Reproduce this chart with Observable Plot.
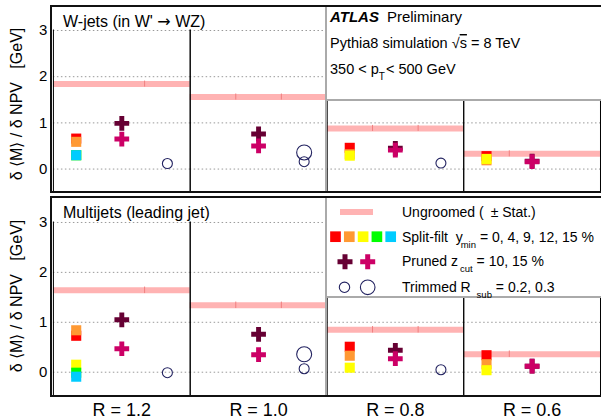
<!DOCTYPE html>
<html><head><meta charset="utf-8">
<script src="https://cdn.jsdelivr.net/npm/d3@7"></script>
<script src="https://cdn.jsdelivr.net/npm/@observablehq/plot@0.6"></script>
<style>
html,body{margin:0;padding:0;background:#fff;overflow:hidden;}
#wrap{position:relative;width:601px;height:419px;overflow:hidden;font-family:"Liberation Sans",Arial,Helvetica,sans-serif;}
#wrap svg{position:absolute;left:0;}
</style></head><body><div id="wrap"></div>
<script>
// ---------- data ----------
const radii = [1.2, 1.0, 0.8, 0.6];
const rLabels = ["R = 1.2", "R = 1.0", "R = 0.8", "R = 0.6"];
const yTicks = [0, 1, 2, 3];
const groomers = ["Split-filt", "Pruned", "Trimmed"];
const splitYmin = [0, 4, 9, 12, 15];
const prunedZcut = [10, 15];
const trimmedRsub = [0.2, 0.3];

// W-jets (in W' -> WZ)
const ungroomedW = [1.84, 1.56, 0.88, 0.33];
const statEdgesW = [[2], [1, 2], [1, 2], [1]];
const splitW = [[0.66, 0.59, 0.30, 0.30, 0.30], [], [0.46, 0.32, 0.29], [0.28, 0.19, 0.22]];
const prunedW = [[0.99, 0.65], [0.76, 0.50], [0.45, 0.41], [0.17, 0.16]];
const trimmedW = [[0.12, null], [0.16, 0.36], [0.13, null], [null, null]];

// Multijets (leading jet)
const ungroomedM = [1.64, 1.34, 0.85, 0.36];
const statEdgesM = [[2], [1, 2], [1, 2], [1]];
const splitM = [[0.73, 0.84, 0.15, -0.01, -0.09], [], [0.51, 0.33, 0.09], [0.34, 0.16, 0.04]];
const prunedM = [[1.05, 0.47], [0.76, 0.35], [0.44, 0.27], [0.12, 0.12]];
const trimmedM = [[-0.01, null], [0.07, 0.36], [0.05, null], [null, null]];

// ---------- styles ----------
const splitColors = ["#ff0000", "#ff9933", "#ffff00", "#00ff00", "#00ccff"];
const prunedColors = ["#660033", "#cc0066"];
const circleColor = "#222260";
const bandColor = "#ffb3b3";
const FONT = "Liberation Sans, Arial, Helvetica, sans-serif";

function panel(ung, edges, split, pruned, trimmed, cfg) {
  const ungData = radii.map((R, i) => ({R, y: ung[i]}));
  const edgeData = radii.flatMap((R, i) => edges[i].map(b => ({R, b, y: ung[i]})));
  const splitData = radii.flatMap((R, i) => split[i].map((v, k) => ({R, k, ymin: splitYmin[k], y: v}))).filter(d => d.y != null);
  const prunedData = radii.flatMap((R, i) => pruned[i].map((v, k) => ({R, k, z: prunedZcut[k], y: v}))).filter(d => d.y != null);
  const trimData = radii.flatMap((R, i) => trimmed[i].map((v, k) => ({R, k, rsub: trimmedRsub[k], y: v}))).filter(d => d.y != null);
  const gx = g => groomers.indexOf(g) + 0.5;
  const marks = [
    Plot.ruleY(yTicks, {stroke: "#999", strokeDasharray: "1.5,2.5"}),
    Plot.ruleY(ungData, {fx: "R", y: "y", stroke: bandColor, strokeWidth: 6}),
    Plot.ruleX(edgeData, {fx: "R", x: "b", y1: d => d.y - 0.065, y2: d => d.y + 0.065, stroke: "#f08080", strokeWidth: 1}),
    Plot.dot(splitData, {fx: "R", x: () => gx("Split-filt"), y: "y", symbol: "square", r: 5.7, fill: d => splitColors[d.k], stroke: null}),
    Plot.dot(prunedData, {fx: "R", x: () => gx("Pruned"), y: "y", symbol: "cross", r: 6.2, fill: d => prunedColors[d.k], stroke: null}),
    Plot.dot(trimData.filter(d => d.k === 0), {fx: "R", x: () => gx("Trimmed"), y: "y", r: 5, fill: "none", stroke: circleColor, strokeWidth: 1.1}),
    Plot.dot(trimData.filter(d => d.k === 1), {fx: "R", x: () => gx("Trimmed"), y: "y", r: 7.5, fill: "none", stroke: circleColor, strokeWidth: 1.1}),
    Plot.frame({stroke: "#000"})
  ];
  if (cfg.labels) {
    marks.push(Plot.text(radii, {fx: d => d, text: d => rLabels[radii.indexOf(d)], frameAnchor: "bottom", dy: 20, fontSize: 18, fill: "#000"}));
  }
  return Plot.plot({
    width: 602, height: cfg.height,
    marginLeft: 51, marginRight: 0, marginTop: cfg.mt, marginBottom: cfg.mb,
    style: {fontSize: "15px", fontFamily: FONT, color: "#000", background: "transparent", overflow: "visible"},
    fx: {domain: radii, padding: 0, axis: null},
    x: {domain: [0, 3], axis: null},
    y: {domain: cfg.domain, ticks: yTicks, tickSize: 0, tickPadding: 6, label: null, tickFormat: d => String(d)},
    color: {type: "identity"},
    marks
  });
}

const wrap = document.getElementById("wrap");
const p1 = panel(ungroomedW, statEdgesW, splitW, prunedW, trimmedW, {height: 192, mt: 6, mb: 0, domain: [-0.5, 3.52], labels: false});
p1.style.top = "0px";
wrap.appendChild(p1);
const p2 = panel(ungroomedM, statEdgesM, splitM, prunedM, trimmedM, {height: 222, mt: 0, mb: 23, domain: [-0.48, 3.5], labels: true});
p2.style.top = "197px";
wrap.appendChild(p2);

// ---------- overlay: title strips, text box, legend, titles ----------
const ov = d3.select(wrap).append("svg").attr("width", 601).attr("height", 419)
  .style("top", "0px").attr("font-family", FONT).attr("fill", "#000");

// title strips above the y = 3 line (no sub-panel dividers there)
ov.append("rect").attr("x", 52).attr("y", 7).attr("width", 273).attr("height", 22.5).attr("fill", "#fff");
ov.append("rect").attr("x", 52).attr("y", 198).attr("width", 273).attr("height", 23.5).attr("fill", "#fff");

// info box (top right)
ov.append("rect").attr("x", 326).attr("y", 6).attr("width", 280).attr("height", 94).attr("fill", "#fff");
ov.append("line").attr("x1", 326).attr("x2", 602).attr("y1", 100).attr("y2", 100).attr("stroke", "#aaa").attr("stroke-width", 2);
ov.append("line").attr("x1", 326).attr("x2", 326).attr("y1", 7).attr("y2", 191).attr("stroke", "#aaa").attr("stroke-width", 2);
// legend box (bottom right)
ov.append("rect").attr("x", 326).attr("y", 197).attr("width", 280).attr("height", 100).attr("fill", "#fff");
ov.append("line").attr("x1", 326).attr("x2", 602).attr("y1", 297).attr("y2", 297).attr("stroke", "#aaa").attr("stroke-width", 2);
ov.append("line").attr("x1", 326).attr("x2", 326).attr("y1", 198).attr("y2", 395).attr("stroke", "#aaa").attr("stroke-width", 2);

// outer pad borders (slightly heavier)
[[6, 192], [197, 396]].forEach(([t, b]) => {
  ov.append("rect").attr("x", 51).attr("y", t).attr("width", 560).attr("height", b - t)
    .attr("fill", "none").attr("stroke", "#111").attr("stroke-width", 2);
});

// flowing text with tspans
function textLine(x, y, size, parts) {
  const t = ov.append("text").attr("x", x).attr("y", y).attr("font-size", size).style("white-space", "pre");
  parts.forEach(p => {
    const [s, o = {}] = Array.isArray(p) ? p : [p];
    const ts = t.append("tspan").text(s);
    if (o.size) ts.attr("font-size", o.size);
    if (o.dx) ts.attr("dx", o.dx);
    if (o.dy) ts.attr("dy", o.dy);
    if (o.weight) ts.attr("font-weight", o.weight);
    if (o.style) ts.attr("font-style", o.style);
    if (o.family) ts.attr("font-family", o.family);
    if (o.deco) ts.attr("text-decoration", o.deco);
  });
  return t;
}
// panel titles
textLine(63, 27, 16, ["W-jets (in W' ", ["\u2192", {family: "DejaVu Sans"}], " WZ)"]);
textLine(63, 218, 16, ["Multijets (leading jet)"]);
// y axis titles
[104, 296].forEach(cy => {
  ov.append("text").attr("transform", `translate(16,${cy}) rotate(-90)`).attr("text-anchor", "middle")
    .attr("dy", "0.35em").attr("font-size", 16).style("white-space", "pre")
    .text("\u03b4 \u27e8M\u27e9 / \u03b4 NPV   [GeV]");
});
// ATLAS box
textLine(330, 22, 15, [["ATLAS", {weight: "bold", style: "italic"}], ["Preliminary", {dx: 8}]]);
textLine(330, 48, 14.5, ["Pythia8 simulation ", "\u221a", ["s", {deco: "overline"}], " = 8 TeV"]);
textLine(330, 74, 14.5, ["350 < p", ["T", {size: 10, dy: 6}], ["< 500 GeV", {dy: -6, dx: 1}]]);

// legend swatches
ov.append("line").attr("x1", 340).attr("x2", 373).attr("y1", 212).attr("y2", 212).attr("stroke", bandColor).attr("stroke-width", 6);
const sq = d3.symbol(d3.symbolSquare, 114)();
splitColors.forEach((c, k) => ov.append("path").attr("d", sq).attr("fill", c).attr("transform", `translate(${335.5 + k * 13.8},236.7)`));
const cr = d3.symbol(d3.symbolCross, 125)();
prunedColors.forEach((c, k) => ov.append("path").attr("d", cr).attr("fill", c).attr("transform", `translate(${345 + k * 22.7},261.7)`));
[5.2, 7.3].forEach((r, k) => ov.append("circle").attr("cx", 344.5 + k * 23.2).attr("cy", 287.3).attr("r", r)
  .attr("fill", "none").attr("stroke", circleColor).attr("stroke-width", 1.1));
// legend texts
const LS = 14;
textLine(402, 217, LS, ["Ungroomed (", ["\u00b1 Stat.)", {dx: 7}]]);
textLine(402, 242, LS, ["Split-filt  y", ["min", {size: 9.5, dy: 6, dx: -2}], [" = " + splitYmin.join(", ") + " %", {dy: -6}]]);
textLine(402, 266, LS, ["Pruned z", ["cut", {size: 9.5, dy: 6, dx: 2}], [" = " + prunedZcut.join(", ") + " %", {dy: -6}]]);
textLine(402, 292, LS, ["Trimmed R ", ["sub", {size: 9.5, dy: 6, dx: 2}], [" = " + trimmedRsub.join(", "), {dy: -6}]]);
</script></body></html>
